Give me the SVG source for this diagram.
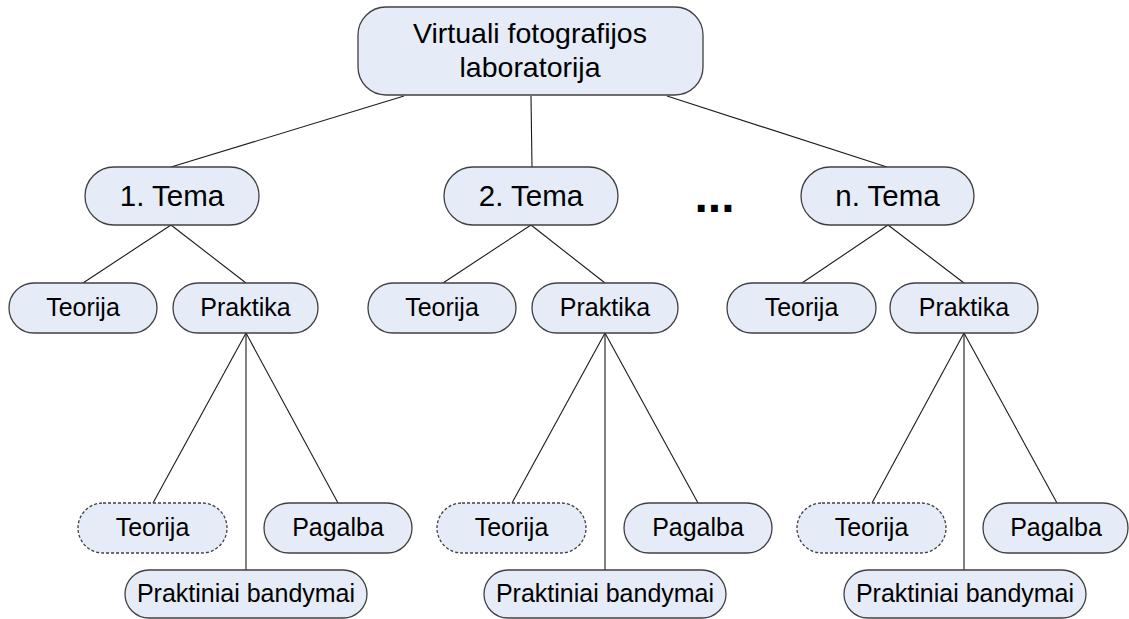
<svg xmlns="http://www.w3.org/2000/svg" width="1129" height="619" viewBox="0 0 1129 619">
  <style>
    .box { fill: #E6ECF7; stroke: #404040; stroke-width: 1.3; }
    .dash { stroke-dasharray: 3 2; }
    .lbl { font-family: "Liberation Sans", Arial, sans-serif; fill: #000; text-anchor: middle; }
    .big { font-size: 28.5px; }
    .tema { font-size: 29.5px; }
    .mid { font-size: 25px; }
    .edge { stroke: #1a1a1a; stroke-width: 1.1; fill: none; }
  </style>
  <rect width="1129" height="619" fill="#fff"/>

  <!-- connectors -->
  <g id="connectors">
    <line class="edge" x1="404" y1="96" x2="171" y2="167"/>
    <line class="edge" x1="531" y1="96" x2="532" y2="167"/>
    <line class="edge" x1="667" y1="96" x2="887" y2="167"/>

    <line class="edge" x1="171" y1="225" x2="83" y2="283"/>
    <line class="edge" x1="171" y1="225" x2="246" y2="283"/>
    <line class="edge" x1="246" y1="333" x2="153" y2="503"/>
    <line class="edge" x1="246" y1="333" x2="246" y2="570"/>
    <line class="edge" x1="246" y1="333" x2="338" y2="503"/>

    <line class="edge" x1="531" y1="225" x2="443" y2="283"/>
    <line class="edge" x1="531" y1="225" x2="605" y2="283"/>
    <line class="edge" x1="605" y1="333" x2="512" y2="503"/>
    <line class="edge" x1="605" y1="333" x2="605" y2="570"/>
    <line class="edge" x1="605" y1="333" x2="698" y2="503"/>

    <line class="edge" x1="888" y1="225" x2="802" y2="283"/>
    <line class="edge" x1="888" y1="225" x2="964" y2="283"/>
    <line class="edge" x1="964" y1="333" x2="872" y2="503"/>
    <line class="edge" x1="964" y1="333" x2="964" y2="570"/>
    <line class="edge" x1="964" y1="333" x2="1057" y2="503"/>
  </g>

  <!-- root -->
  <g id="root">
    <rect class="box" x="358" y="7" width="345" height="88" rx="28"/>
    <text class="lbl big" x="530" y="43">Virtuali fotografijos</text>
    <text class="lbl big" x="530" y="77">laboratorija</text>
  </g>

  <!-- topic 1 -->
  <g id="tema1">
    <rect class="box" x="85" y="167" width="174" height="58" rx="29"/>
    <text class="lbl tema" x="172" y="206">1. Tema</text>
  </g>
  <g id="teorija1">
    <rect class="box" x="9" y="283" width="148" height="50" rx="25"/>
    <text class="lbl mid" x="83" y="316">Teorija</text>
  </g>
  <g id="praktika1">
    <rect class="box" x="173" y="283" width="145" height="50" rx="25"/>
    <text class="lbl mid" x="245.5" y="316">Praktika</text>
  </g>
  <g id="teorija1b">
    <rect class="box dash" x="78" y="503" width="149" height="50" rx="25"/>
    <text class="lbl mid" x="152.5" y="536">Teorija</text>
  </g>
  <g id="pagalba1">
    <rect class="box" x="264" y="503" width="148" height="50" rx="25"/>
    <text class="lbl mid" x="338" y="536">Pagalba</text>
  </g>
  <g id="bandymai1">
    <rect class="box" x="125" y="570" width="242" height="48" rx="24"/>
    <text class="lbl mid" x="246" y="602">Praktiniai bandymai</text>
  </g>

  <!-- topic 2 -->
  <g id="tema2">
    <rect class="box" x="444" y="167" width="174" height="58" rx="29"/>
    <text class="lbl tema" x="531" y="206">2. Tema</text>
  </g>
  <g id="teorija2">
    <rect class="box" x="368" y="283" width="148" height="50" rx="25"/>
    <text class="lbl mid" x="442" y="316">Teorija</text>
  </g>
  <g id="praktika2">
    <rect class="box" x="532" y="283" width="146" height="50" rx="25"/>
    <text class="lbl mid" x="605" y="316">Praktika</text>
  </g>
  <g id="teorija2b">
    <rect class="box dash" x="437" y="503" width="149" height="50" rx="25"/>
    <text class="lbl mid" x="511.5" y="536">Teorija</text>
  </g>
  <g id="pagalba2">
    <rect class="box" x="624" y="503" width="148" height="50" rx="25"/>
    <text class="lbl mid" x="698" y="536">Pagalba</text>
  </g>
  <g id="bandymai2">
    <rect class="box" x="484" y="570" width="242" height="48" rx="24"/>
    <text class="lbl mid" x="605" y="602">Praktiniai bandymai</text>
  </g>

  <!-- ellipsis between topics -->
  <text x="694.5" y="212" font-family="Liberation Sans, Arial, sans-serif" font-size="48" font-weight="bold" fill="#000">...</text>

  <!-- topic n -->
  <g id="temaN">
    <rect class="box" x="801" y="167" width="173" height="58" rx="29"/>
    <text class="lbl tema" x="887.5" y="206">n. Tema</text>
  </g>
  <g id="teorija3">
    <rect class="box" x="727" y="283" width="149" height="50" rx="25"/>
    <text class="lbl mid" x="801.5" y="316">Teorija</text>
  </g>
  <g id="praktika3">
    <rect class="box" x="890" y="283" width="148" height="50" rx="25"/>
    <text class="lbl mid" x="964" y="316">Praktika</text>
  </g>
  <g id="teorija3b">
    <rect class="box dash" x="797" y="503" width="149" height="50" rx="25"/>
    <text class="lbl mid" x="871.5" y="536">Teorija</text>
  </g>
  <g id="pagalba3">
    <rect class="box" x="983" y="503" width="145" height="50" rx="25"/>
    <text class="lbl mid" x="1056" y="536">Pagalba</text>
  </g>
  <g id="bandymai3">
    <rect class="box" x="844" y="570" width="242" height="48" rx="24"/>
    <text class="lbl mid" x="965" y="602">Praktiniai bandymai</text>
  </g>
</svg>
